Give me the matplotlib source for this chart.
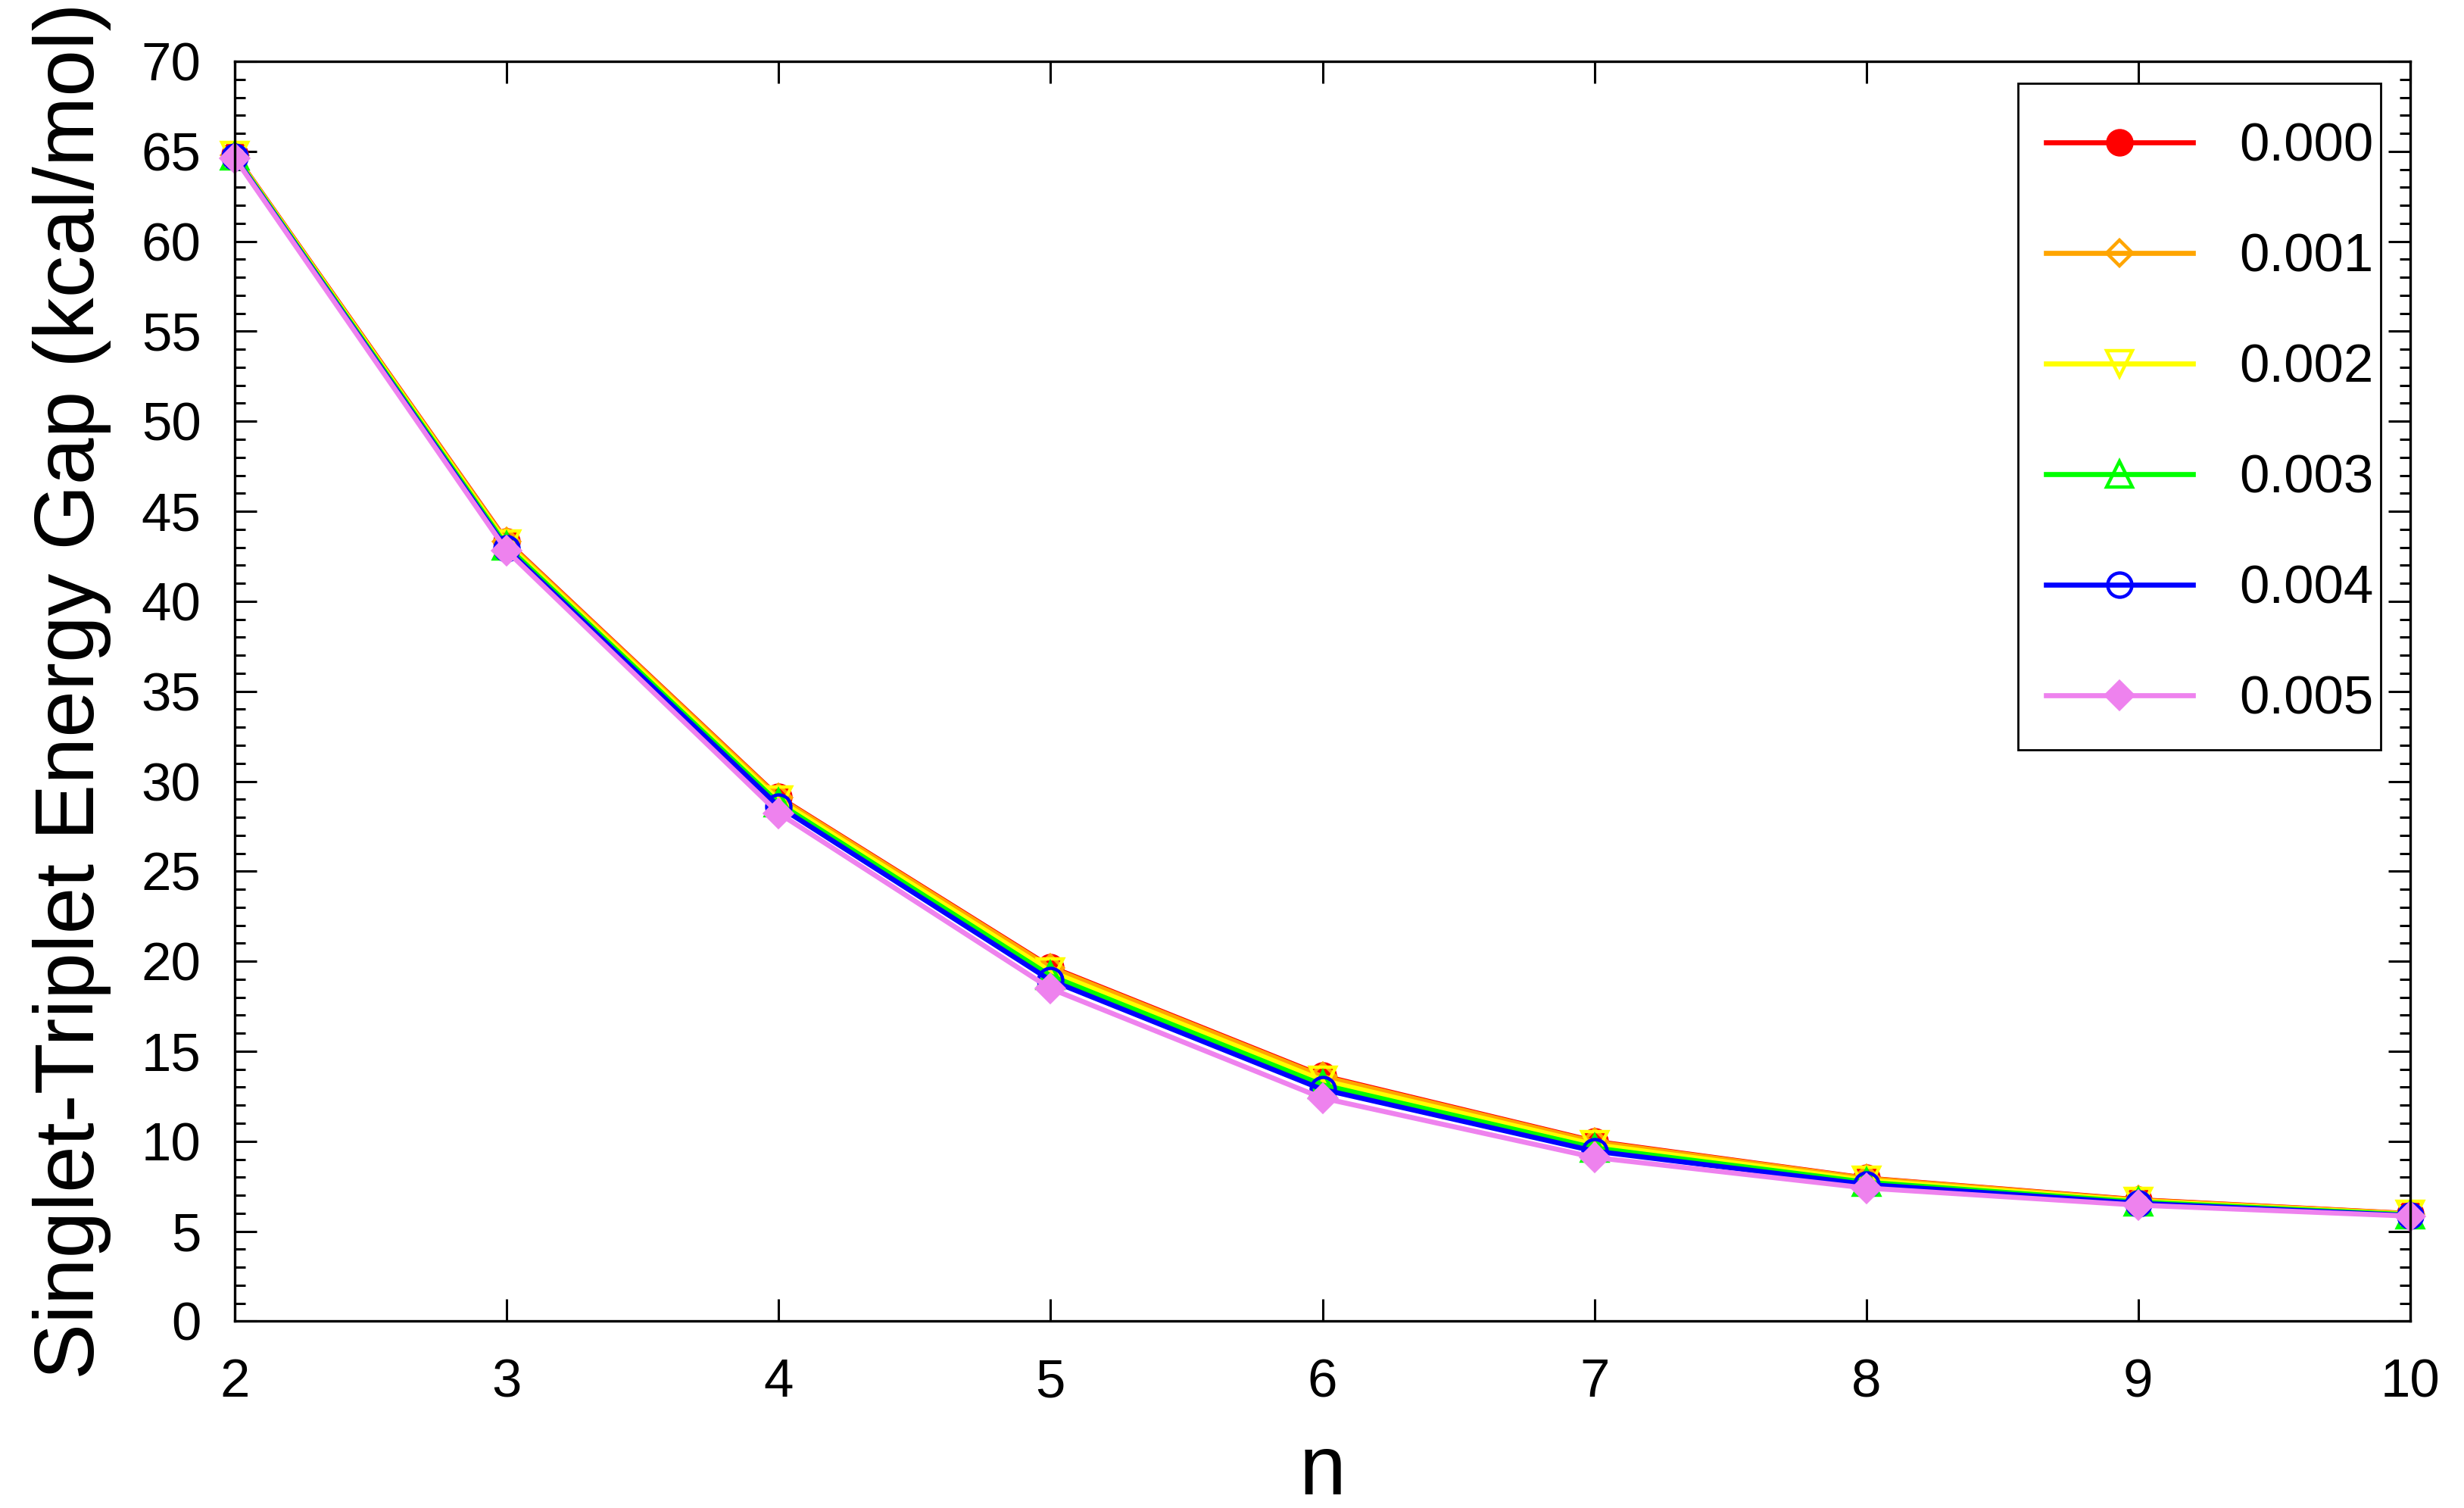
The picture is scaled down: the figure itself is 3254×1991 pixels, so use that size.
import matplotlib
matplotlib.use("Agg")
import matplotlib.pyplot as plt
from matplotlib.ticker import MultipleLocator
from matplotlib.patches import Rectangle

plt.rcParams['font.family'] = ['Liberation Sans', 'DejaVu Sans']

n = [2, 3, 4, 5, 6, 7, 8, 9, 10]
labels = ["0.000", "0.001", "0.002", "0.003", "0.004", "0.005"]
s000 = [64.83, 43.34, 29.13, 19.69, 13.64, 10.00, 7.95, 6.75, 5.98]
s001 = [64.80, 43.30, 29.09, 19.64, 13.59, 9.96, 7.93, 6.73, 5.97]
s002 = [64.78, 43.20, 28.95, 19.43, 13.38, 9.81, 7.83, 6.68, 5.94]
s003 = [64.74, 43.06, 28.78, 19.19, 13.13, 9.63, 7.72, 6.62, 5.91]
s004 = [64.68, 42.92, 28.61, 18.94, 12.88, 9.45, 7.60, 6.55, 5.87]
s005 = [64.63, 42.81, 28.23, 18.48, 12.40, 9.10, 7.40, 6.45, 5.84]
series = [s000, s001, s002, s003, s004, s005]

colors = ['#ff0000', '#ffa500', '#ffff00', '#00ff00', '#0000ff', '#ee82ee']
markers = ['o', 'D', 'v', '^', 'o', 'D']
msizes = [11.5, 8.5, 12, 12, 11.5, 9]
filled = [True, False, False, False, False, True]

fig = plt.figure(figsize=(16.27, 9.955), dpi=200)
ax = fig.add_axes([0.09527, 0.12386, 0.88291, 0.83546])

for ys, c, m, ms, f, lab in zip(series, colors, markers, msizes, filled, labels):
    ax.plot(n, ys, color=c, lw=2.4, marker=m, markersize=ms,
            markerfacecolor=c if f else 'none', markeredgecolor=c,
            markeredgewidth=1.6, label=lab, clip_on=False)

ax.set_xlim(2, 10)
ax.set_ylim(0, 70)
ax.xaxis.set_major_locator(MultipleLocator(1))
ax.yaxis.set_major_locator(MultipleLocator(5))
ax.yaxis.set_minor_locator(MultipleLocator(1))

for sp in ax.spines.values():
    sp.set_linewidth(1.2)
ax.tick_params(which='both', direction='in', top=True, right=True, width=1.1,
               labelsize=25.5)
ax.tick_params(which='major', length=10.3)
ax.tick_params(which='minor', length=5.1)
ax.tick_params(axis='y', pad=16)
ax.tick_params(axis='x', pad=17.5)

fig.text(0.0292, 0.542, "Singlet-Triplet Energy Gap (kcal/mol)", rotation=90,
         ha='center', va='center', fontsize=40)
ax.set_xlabel("n", fontsize=40, labelpad=12)

ax.add_patch(Rectangle((0.8197, 0.4535), 0.1667, 0.529, transform=ax.transAxes,
                       fill=False, edgecolor='black', lw=1.0, zorder=5))
leg = ax.legend(loc='upper left', bbox_to_anchor=(0.8326, 0.9515), frameon=False,
                fontsize=25.5, borderpad=0, borderaxespad=0, handlelength=2.74,
                handletextpad=0.86, labelspacing=1.13)

fig.savefig("out.png", dpi=200)
